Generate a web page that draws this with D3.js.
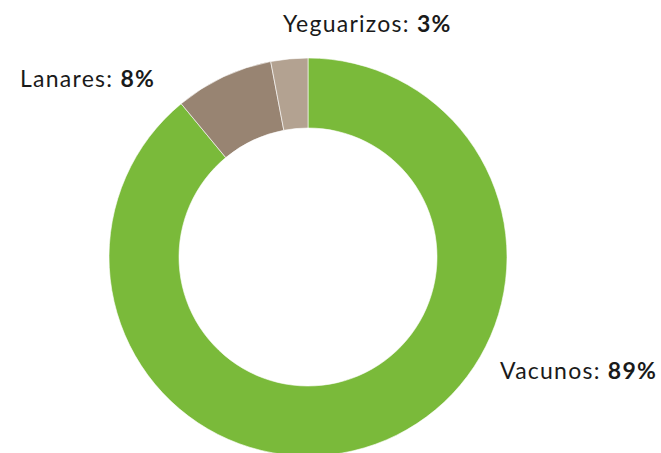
<!DOCTYPE html>
<html>
<head>
<meta charset="utf-8">
<script src="https://cdn.jsdelivr.net/npm/d3@7"></script>
<style>
  html, body { margin: 0; padding: 0; background: #fff; }
  svg { display: block; }
  text { font-family: Lato, "Open Sans", sans-serif; fill: #1a1a1a; }
</style>
</head>
<body>
<svg id="chart" width="661" height="453"></svg>
<script>
const categories = ["Vacunos", "Lanares", "Yeguarizos"];
const values = [89, 8, 3];
const colors = ["#7aba3a", "#988472", "#b3a291"];

const W = 661, H = 453;
const cx = 308, cy = 257, outerR = 199, innerR = 129;

// label layout (anchor-start x, baseline y) per category
const labelLayout = {
  "Vacunos":    { x: 500, y: 379 },
  "Lanares":    { x: 20,  y: 87 },
  "Yeguarizos": { x: 283, y: 32 }
};

const data = categories.map((c, i) => ({ name: c, value: values[i], color: colors[i] }));

const svg = d3.select("#chart");
const g = svg.append("g").attr("transform", `translate(${cx},${cy})`);

const pie = d3.pie().value(d => d.value).sort(null);
const arc = d3.arc().innerRadius(innerR).outerRadius(outerR);

g.selectAll("path")
  .data(pie(data))
  .join("path")
  .attr("d", arc)
  .attr("fill", d => d.data.color)
  .attr("stroke", "#ffffff")
  .attr("stroke-width", 0.6);

const labels = svg.selectAll("text.lbl")
  .data(data)
  .join("text")
  .attr("class", "lbl")
  .attr("x", d => labelLayout[d.name].x)
  .attr("y", d => labelLayout[d.name].y)
  .attr("font-size", 23)
  .attr("letter-spacing", 1.25);

labels.append("tspan").attr("font-weight", 400).text(d => d.name + ": ");
labels.append("tspan").attr("font-weight", 700).text(d => d.value + "%");
</script>
</body>
</html>
